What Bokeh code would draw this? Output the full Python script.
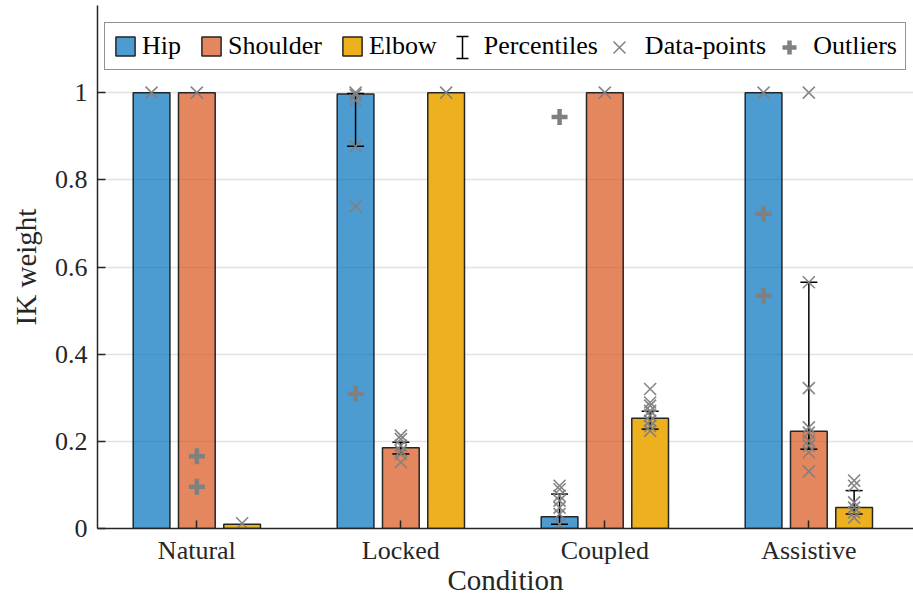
from bokeh.plotting import figure
from bokeh.models import Range1d, FixedTicker, Legend, LegendItem, Arrow, TeeHead
from bokeh.embed import file_html
from bokeh.resources import INLINE

conditions = ["Natural", "Locked", "Coupled", "Assistive"]
joints = ["Hip", "Shoulder", "Elbow"]

hip_mean = [1.0, 0.997, 0.027, 1.0]
shoulder_mean = [1.0, 0.185, 1.0, 0.223]
elbow_mean = [0.010, 1.0, 0.253, 0.048]

pct_condition = ["Locked", "Locked", "Coupled", "Coupled", "Assistive", "Assistive"]
pct_joint = ["Hip", "Shoulder", "Hip", "Elbow", "Shoulder", "Elbow"]
pct_low = [0.877, 0.171, 0.010, 0.228, 0.182, 0.033]
pct_median = [0.998, 0.190, 0.040, 0.251, 0.209, 0.043]
pct_high = [0.998, 0.198, 0.079, 0.269, 0.565, 0.087]

hip_points = {
    "Natural": [1.0],
    "Locked": [1.0, 0.995, 0.982, 0.877, 0.739],
    "Coupled": [0.098, 0.090, 0.075, 0.064, 0.048, 0.033, 0.010],
    "Assistive": [1.0],
}
shoulder_points = {
    "Natural": [1.0],
    "Locked": [0.213, 0.205, 0.190, 0.178, 0.171, 0.152],
    "Coupled": [1.0],
    "Assistive": [1.0, 0.565, 0.322, 0.232, 0.220, 0.201, 0.190, 0.175, 0.131],
}
elbow_points = {
    "Natural": [0.012],
    "Locked": [1.0],
    "Coupled": [0.320, 0.289, 0.282, 0.270, 0.259, 0.247, 0.235, 0.224],
    "Assistive": [0.110, 0.098, 0.060, 0.048, 0.037, 0.025],
}

hip_outliers = {"Natural": [], "Locked": [0.309], "Coupled": [0.944], "Assistive": [0.722, 0.534]}
shoulder_outliers = {"Natural": [0.166, 0.096], "Locked": [], "Coupled": [], "Assistive": []}
elbow_outliers = {"Natural": [], "Locked": [], "Coupled": [], "Assistive": []}

y_ticks = [0, 0.2, 0.4, 0.6, 0.8, 1.0]
y_tick_labels = ["0", "0.2", "0.4", "0.6", "0.8", "1"]
x_title = "Condition"
y_title = "IK weight"

# ---- styling / layout ----
FONT = "Liberation Serif"
DARK = "#262626"
GREY = "#808080"
offsets = {"Hip": -0.222, "Shoulder": 0.0, "Elbow": 0.222}
colors = {"Hip": "#0072BD", "Shoulder": "#D95319", "Elbow": "#EDB120"}
alphas = {"Hip": 0.7, "Shoulder": 0.7, "Elbow": 1.0}
BAR_W = 0.18

def xpos(cond, joint):
    return conditions.index(cond) + 1 + offsets[joint]

p = figure(width=913, height=598, output_backend="svg", toolbar_location=None,
           x_range=Range1d(0.513, 4.513), y_range=Range1d(0, 1.2),
           min_border_left=97, min_border_right=0, min_border_top=5, min_border_bottom=70)
p.outline_line_color = None
p.background_fill_color = "white"
p.border_fill_color = "white"

means = {"Hip": hip_mean, "Shoulder": shoulder_mean, "Elbow": elbow_mean}
bar_r = {}
for j in joints:
    xs = [xpos(c, j) for c in conditions]
    bar_r[j] = p.vbar(x=xs, top=means[j], width=BAR_W, bottom=0,
                      fill_color=colors[j], fill_alpha=alphas[j],
                      line_color=DARK, line_width=1.5)

# percentiles
px = [xpos(c, j) for c, j in zip(pct_condition, pct_joint)]
p.segment(x0=px, y0=pct_low, x1=px, y1=pct_high, line_color="black", line_width=1.5)
p.scatter(x=px + px, y=pct_low + pct_high, marker="dash", size=17,
          line_color="black", line_width=1.5)
p.scatter(x=px, y=pct_median, marker="dot", size=7, line_color="black", fill_color="black")

# data points
points = {"Hip": hip_points, "Shoulder": shoulder_points, "Elbow": elbow_points}
dx, dy = [], []
for j in joints:
    for c in conditions:
        for v in points[j][c]:
            dx.append(xpos(c, j)); dy.append(v)
p.scatter(x=dx, y=dy, marker="x", size=17, line_color=GREY, line_width=1.6, line_alpha=0.95)

outl = {"Hip": hip_outliers, "Shoulder": shoulder_outliers, "Elbow": elbow_outliers}
ox, oy = [], []
for j in joints:
    for c in conditions:
        for v in outl[j][c]:
            ox.append(xpos(c, j)); oy.append(v)
p.scatter(x=ox, y=oy, marker="cross", size=16, line_color=GREY, line_width=4.5)

dummy_r = p.scatter(x=[float("nan")], y=[float("nan")], marker="dash", size=1, alpha=0)

# axes
p.xaxis.ticker = FixedTicker(ticks=[1, 2, 3, 4])
p.xaxis.major_label_overrides = {i + 1: c for i, c in enumerate(conditions)}
p.yaxis.ticker = FixedTicker(ticks=y_ticks)
p.yaxis.major_label_overrides = dict(zip(y_ticks, y_tick_labels))
p.xaxis.axis_label = x_title
p.yaxis.axis_label = y_title
for ax in (p.xaxis, p.yaxis):
    ax.axis_line_color = DARK
    ax.axis_line_width = 1.5
    ax.major_tick_line_color = DARK
    ax.major_tick_line_width = 1.5
    ax.major_tick_in = 8
    ax.major_tick_out = 0
    ax.minor_tick_line_color = None
    ax.major_label_text_font = FONT
    ax.major_label_text_font_size = "26px"
    ax.major_label_text_color = DARK
    ax.axis_label_text_font = FONT
    ax.axis_label_text_font_size = "29px"
    ax.axis_label_text_font_style = "normal"
    ax.axis_label_text_color = DARK
p.xaxis.major_label_standoff = 7
p.xaxis.axis_label_standoff = -4
p.yaxis.major_label_standoff = 10
p.yaxis.axis_label_standoff = 10
p.xgrid.grid_line_color = None
p.ygrid.grid_line_color = "#e3e3e3"
p.ygrid.grid_line_width = 1.5

legend = Legend(items=[
    LegendItem(label="Hip", renderers=[bar_r["Hip"]]),
    LegendItem(label="Shoulder", renderers=[bar_r["Shoulder"]]),
    LegendItem(label="Elbow", renderers=[bar_r["Elbow"]]),
    LegendItem(label="Percentiles", renderers=[dummy_r]),
    LegendItem(label="Data-points", renderers=[dummy_r]),
    LegendItem(label="Outliers", renderers=[dummy_r]),
], orientation="horizontal", location=(7, 458))
legend.label_text_font = FONT
legend.label_text_font_size = "26px"
legend.label_text_color = "black"
legend.glyph_width = 24
legend.glyph_height = 24
legend.label_standoff = 5
legend.spacing = 18
legend.padding = 8
legend.margin = 0
legend.border_line_color = DARK
legend.border_line_width = 1.2
legend.background_fill_alpha = 0.0
p.add_layout(legend)

# legend symbols for percentiles / data-points / outliers (frame-relative screen units)
CY = 481
def seg(x0, y0, x1, y1, color, width, heads=False):
    if heads:
        kw = dict(start=TeeHead(size=12, line_color=color, line_width=width),
                  end=TeeHead(size=12, line_color=color, line_width=width))
    else:
        kw = dict(end=None)
    p.add_layout(Arrow(x_start=x0, y_start=y0, x_end=x1, y_end=y1,
                       start_units="screen", end_units="screen",
                       line_color=color, line_width=width, **kw))

PX, DXC, OXC = 365, 522, 692
seg(PX, CY - 11, PX, CY + 11, "black", 1.5, heads=True)
seg(DXC - 6, CY - 6, DXC + 6, CY + 6, GREY, 1.5)
seg(DXC - 6, CY + 6, DXC + 6, CY - 6, GREY, 1.5)
seg(OXC - 7, CY, OXC + 7, CY, GREY, 4.5)
seg(OXC, CY - 7, OXC, CY + 7, GREY, 4.5)

open("out.html", "w").write(file_html(p, INLINE))
